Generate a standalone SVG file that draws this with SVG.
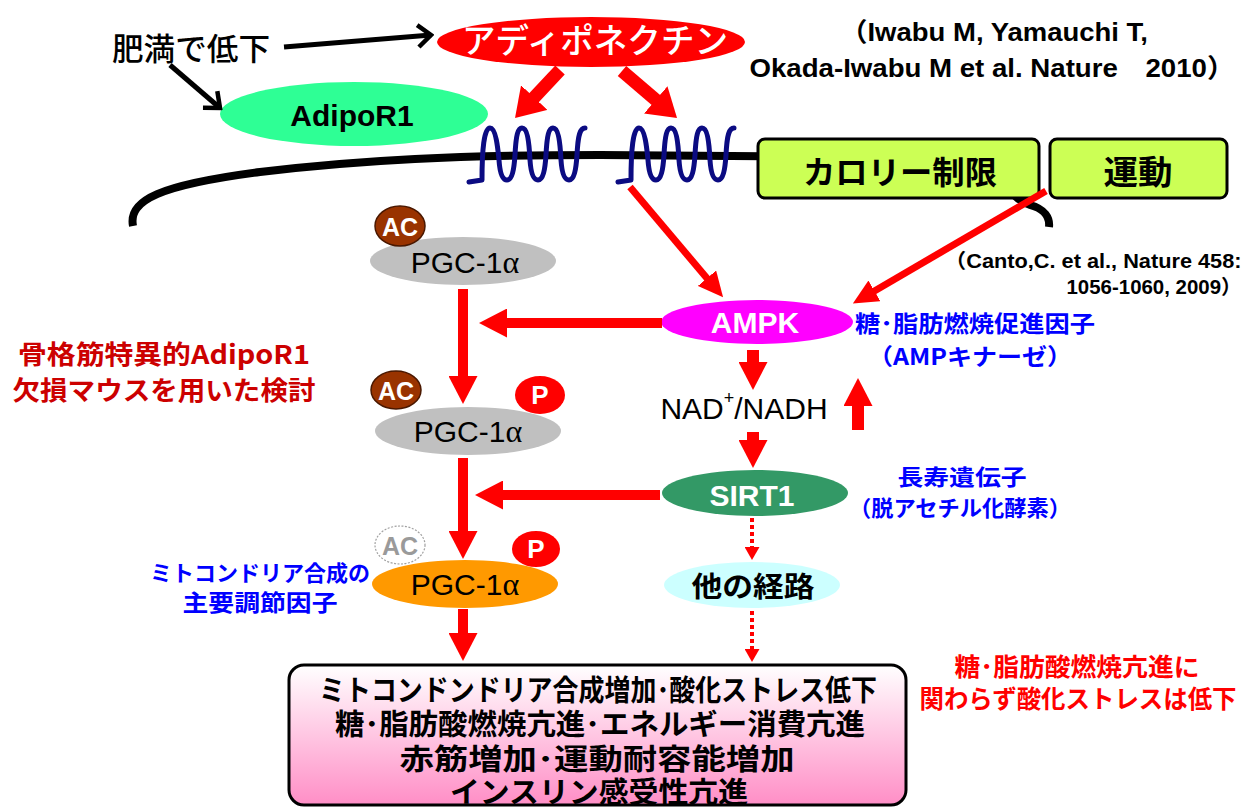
<svg xmlns="http://www.w3.org/2000/svg" width="1254" height="808" viewBox="0 0 1254 808">
  <style>
    text { dominant-baseline: central; text-anchor: middle; }
    .jp { font-family: "Noto Sans CJK JP", "Liberation Sans", sans-serif; font-weight: 700; }
    .jpm { font-family: "Noto Sans CJK JP", "Liberation Sans", sans-serif; font-weight: 500; }
    .lat { font-family: "Liberation Sans", "Noto Sans CJK JP", sans-serif; }
    .b { font-weight: 700; }
    .blue { fill: #0000ff; }
    .dred { fill: #cc0000; }
    .red { fill: #ff0000; }
    .wt { fill: #ffffff; }
    .arr { stroke: #ff0000; fill: none; }
    .blk { stroke: #000000; stroke-width: 5; fill: none; }
    .pgc { fill: #c0c0c0; }
    .ac { fill: #993300; stroke: #4a1800; stroke-width: 1.5; }
    .p { fill: #ff0000; }
    .greek { font-family: "Liberation Serif", "DejaVu Serif", serif; }
    .wave { fill: none; stroke: #0b0b82; stroke-width: 5; stroke-linecap: round; stroke-linejoin: round; }
  </style>
  <defs>
    <linearGradient id="boxGrad" x1="0" y1="0" x2="0" y2="1">
      <stop offset="0" stop-color="#ffffff"/>
      <stop offset="1" stop-color="#ff8ec6"/>
    </linearGradient>
    <marker id="headBig" markerUnits="userSpaceOnUse" viewBox="0 0 28 36" markerWidth="28" markerHeight="36" refX="1" refY="18" orient="auto">
      <path d="M0,0 L28,18 L0,36 z" fill="#ff0000"/>
    </marker>
    <marker id="head" markerUnits="userSpaceOnUse" viewBox="0 0 28 29" markerWidth="28" markerHeight="29" refX="1" refY="14.5" orient="auto">
      <path d="M0,0 L28,14.5 L0,29 z" fill="#ff0000"/>
    </marker>
    <marker id="headThin" markerUnits="userSpaceOnUse" viewBox="0 0 25 24" markerWidth="25" markerHeight="24" refX="1" refY="12" orient="auto">
      <path d="M0,0 L25,12 L0,24 z" fill="#ff0000"/>
    </marker>
    <marker id="headSmall" markerUnits="userSpaceOnUse" viewBox="0 0 13 15" markerWidth="13" markerHeight="15" refX="1" refY="7.5" orient="auto">
      <path d="M0,0 L13,7.5 L0,15 z" fill="#ff0000"/>
    </marker>
    <marker id="chev" markerUnits="userSpaceOnUse" viewBox="-17 -14 20 28" markerWidth="20" markerHeight="28" refX="0" refY="0" orient="auto">
      <path d="M-13,-11 L0,0 L-13,11" fill="none" stroke="#000000" stroke-width="4.5"/>
    </marker>
    <path id="receptor" class="wave" d="M469,182 L482,180 C482,150 484,128 490,128 C496,128 498,150 499,160 C500,175 503,180 507,180 C512,180 514,170 515,155 C516,135 518,128 522,128 C527,128 529,140 530,160 C531,175 534,180 538,180 C543,180 545,170 546,155 C547,135 549,128 553,128 C558,128 560,140 561,160 C562,175 565,180 569,180 C574,180 576,170 577,155 C578,135 580,128 585,128"/>
  </defs>

  <rect width="1254" height="808" fill="#ffffff"/>

  <!-- cell membrane -->
  <path id="membrane" d="M133,226 C128,200 160,185 260,172 C360,160 460,155 600,155 L960,158 C1000,160 1005,198 1030,205 C1045,209 1050,218 1049,227" fill="none" stroke="#000000" stroke-width="8"/>

  <!-- receptors in the membrane -->
  <g id="receptors">
    <use href="#receptor"/>
    <use href="#receptor" transform="translate(149,0)"/>
  </g>

  <!-- nodes -->
  <g id="obesity">
    <text class="jpm" x="191" y="46" font-size="31" textLength="158" lengthAdjust="spacingAndGlyphs">肥満で低下</text>
  </g>
  <g id="adiponectin">
    <ellipse cx="591" cy="42" rx="154" ry="25" fill="#ff0000"/>
    <text class="jpm wt" x="595" y="38" font-size="34" textLength="266" lengthAdjust="spacingAndGlyphs">アディポネクチン</text>
  </g>
  <g id="adipor1">
    <ellipse cx="354" cy="114" rx="134" ry="32" fill="#2eff95"/>
    <text class="lat b" x="352" y="115" font-size="30">AdipoR1</text>
  </g>
  <g id="ref-iwabu">
    <text class="lat b" x="994" y="32" font-size="26" textLength="308" lengthAdjust="spacingAndGlyphs">（Iwabu M, Yamauchi T,</text>
    <text class="lat b" x="992" y="68" font-size="26" textLength="485" lengthAdjust="spacingAndGlyphs">Okada-Iwabu M et al. Nature　2010）</text>
  </g>
  <g id="calorie">
    <rect x="758" y="139" width="281" height="59" rx="7" fill="#ccff55" stroke="#000000" stroke-width="3"/>
    <text class="jp" x="900" y="170" font-size="32" textLength="194" lengthAdjust="spacingAndGlyphs">カロリー制限</text>
  </g>
  <g id="exercise">
    <rect x="1050" y="139" width="177" height="59" rx="7" fill="#ccff55" stroke="#000000" stroke-width="3"/>
    <text class="jp" x="1138" y="170" font-size="33" textLength="69" lengthAdjust="spacingAndGlyphs">運動</text>
  </g>
  <g id="ref-canto">
    <text class="lat b" x="1093" y="261" font-size="20" textLength="297" lengthAdjust="spacingAndGlyphs">（Canto,C. et al., Nature  458:</text>
    <text class="lat b" x="1154" y="287" font-size="20" textLength="175" lengthAdjust="spacingAndGlyphs">1056-1060, 2009）</text>
  </g>

  <g id="pgc-1">
    <ellipse class="pgc" cx="463" cy="261" rx="93" ry="24"/>
    <text class="lat" x="465" y="262" font-size="30">PGC-1<tspan class="greek" font-size="32">α</tspan></text>
    <ellipse class="ac" cx="400" cy="226" rx="25" ry="20"/>
    <text class="lat b wt" x="400" y="227" font-size="25">AC</text>
  </g>
  <g id="pgc-2">
    <ellipse class="pgc" cx="468" cy="431" rx="93" ry="24"/>
    <text class="lat" x="468" y="431" font-size="30">PGC-1<tspan class="greek" font-size="32">α</tspan></text>
    <ellipse class="ac" cx="396" cy="390" rx="25" ry="19"/>
    <text class="lat b wt" x="396" y="391" font-size="25">AC</text>
    <ellipse class="p" cx="540" cy="395" rx="25" ry="19"/>
    <text class="lat b wt" x="540" y="395" font-size="26">P</text>
  </g>
  <g id="pgc-3">
    <ellipse cx="465" cy="584" rx="93" ry="24" fill="#ff9900"/>
    <text class="lat" x="465" y="584" font-size="30">PGC-1<tspan class="greek" font-size="32">α</tspan></text>
    <ellipse cx="400" cy="545" rx="25" ry="19" fill="#ffffff" stroke="#a0a0a0" stroke-width="1.2" stroke-dasharray="2 1.5"/>
    <text class="lat b" x="400" y="546" font-size="25" fill="#9a9a9a">AC</text>
    <ellipse class="p" cx="536" cy="549" rx="24" ry="18"/>
    <text class="lat b wt" x="536" y="549" font-size="26">P</text>
  </g>

  <g id="ampk">
    <ellipse cx="757" cy="322" rx="96" ry="22" fill="#ff00ff"/>
    <text class="lat b wt" x="755" y="322" font-size="30">AMPK</text>
    <text class="jp blue" x="975" y="322" font-size="23" textLength="240" lengthAdjust="spacingAndGlyphs">糖･脂肪燃焼促進因子</text>
    <text class="jp blue" x="970" y="355" font-size="23" textLength="204" lengthAdjust="spacingAndGlyphs">（AMPキナーゼ）</text>
  </g>
  <g id="nad">
    <text class="lat" x="744" y="408" font-size="30">NAD<tspan font-size="18" dy="-10">+</tspan><tspan dy="10">/NADH</tspan></text>
  </g>
  <g id="sirt1">
    <ellipse cx="755" cy="493" rx="93" ry="23" fill="#339966"/>
    <text class="lat b wt" x="752" y="495" font-size="30">SIRT1</text>
    <text class="jp blue" x="962" y="475" font-size="22" textLength="129" lengthAdjust="spacingAndGlyphs">長寿遺伝子</text>
    <text class="jp blue" x="960" y="506" font-size="22" textLength="222" lengthAdjust="spacingAndGlyphs">（脱アセチル化酵素）</text>
  </g>
  <g id="other-pathway">
    <ellipse cx="752" cy="585" rx="88" ry="23" fill="#ccffff"/>
    <text class="jp" x="753" y="585" font-size="28" textLength="123" lengthAdjust="spacingAndGlyphs">他の経路</text>
  </g>

  <g id="ko-note">
    <text class="jp dred" x="164" y="352" font-size="26" textLength="292" lengthAdjust="spacingAndGlyphs">骨格筋特異的AdipoR1</text>
    <text class="jp dred" x="164" y="388" font-size="26" textLength="303" lengthAdjust="spacingAndGlyphs">欠損マウスを用いた検討</text>
  </g>
  <g id="pgc-note">
    <text class="jp blue" x="260" y="571" font-size="22" textLength="220" lengthAdjust="spacingAndGlyphs">ミトコンドリア合成の</text>
    <text class="jp blue" x="260" y="601" font-size="23" textLength="155" lengthAdjust="spacingAndGlyphs">主要調節因子</text>
  </g>

  <g id="outcome">
    <rect x="289" y="665" width="617" height="140" rx="15" fill="url(#boxGrad)" stroke="#000000" stroke-width="3"/>
    <text class="jp" x="598" y="688" font-size="29" textLength="558" lengthAdjust="spacingAndGlyphs">ミトコンドンドリア合成増加･酸化ストレス低下</text>
    <text class="jp" x="600" y="722" font-size="29" textLength="530" lengthAdjust="spacingAndGlyphs">糖･脂肪酸燃焼亢進･エネルギー消費亢進</text>
    <text class="jp" x="597" y="757" font-size="29" textLength="395" lengthAdjust="spacingAndGlyphs">赤筋増加･運動耐容能増加</text>
    <text class="jp" x="599" y="790" font-size="29" textLength="298" lengthAdjust="spacingAndGlyphs">インスリン感受性亢進</text>
  </g>
  <g id="stress-note">
    <text class="jp red" x="1077" y="665" font-size="25" textLength="245" lengthAdjust="spacingAndGlyphs">糖･脂肪酸燃焼亢進に</text>
    <text class="jp red" x="1078" y="697" font-size="25" textLength="317" lengthAdjust="spacingAndGlyphs">関わらず酸化ストレスは低下</text>
  </g>

  <!-- connectors -->
  <g id="connectors">
    <line class="blk" x1="284" y1="47" x2="431" y2="35" marker-end="url(#chev)"/>
    <line class="blk" x1="170" y1="65" x2="220" y2="108" marker-end="url(#chev)"/>

    <line class="arr" stroke-width="13" x1="560" y1="70" x2="533.5" y2="98.3" marker-end="url(#headBig)"/>
    <line class="arr" stroke-width="13" x1="622" y1="71" x2="656.5" y2="100.5" marker-end="url(#headBig)"/>

    <line class="arr" stroke-width="7" x1="630" y1="187" x2="707.6" y2="279" marker-end="url(#headThin)"/>
    <line class="arr" stroke-width="7" x1="1046" y1="191" x2="873.6" y2="291.4" marker-end="url(#headThin)"/>

    <line class="arr" stroke-width="10" x1="662" y1="323" x2="506" y2="323" marker-end="url(#head)"/>
    <line class="arr" stroke-width="10" x1="660" y1="495" x2="502" y2="495" marker-end="url(#head)"/>

    <line class="arr" stroke-width="10" x1="463" y1="289" x2="463" y2="377" marker-end="url(#head)"/>
    <line class="arr" stroke-width="10" x1="463" y1="458" x2="463" y2="532" marker-end="url(#head)"/>
    <line class="arr" stroke-width="10" x1="463" y1="609" x2="463" y2="634" marker-end="url(#head)"/>

    <line class="arr" stroke-width="12" x1="753" y1="350" x2="753" y2="363" marker-end="url(#head)"/>
    <line class="arr" stroke-width="12" x1="753" y1="432" x2="753" y2="441" marker-end="url(#head)"/>
    <line class="arr" stroke-width="12" x1="858" y1="430" x2="858" y2="405" marker-end="url(#head)"/>

    <line class="arr" stroke-width="4" stroke-dasharray="4 3" x1="752" y1="518" x2="752" y2="548" marker-end="url(#headSmall)"/>
    <line class="arr" stroke-width="4" stroke-dasharray="4 3" x1="752" y1="611" x2="752" y2="650" marker-end="url(#headSmall)"/>
  </g>
</svg>
